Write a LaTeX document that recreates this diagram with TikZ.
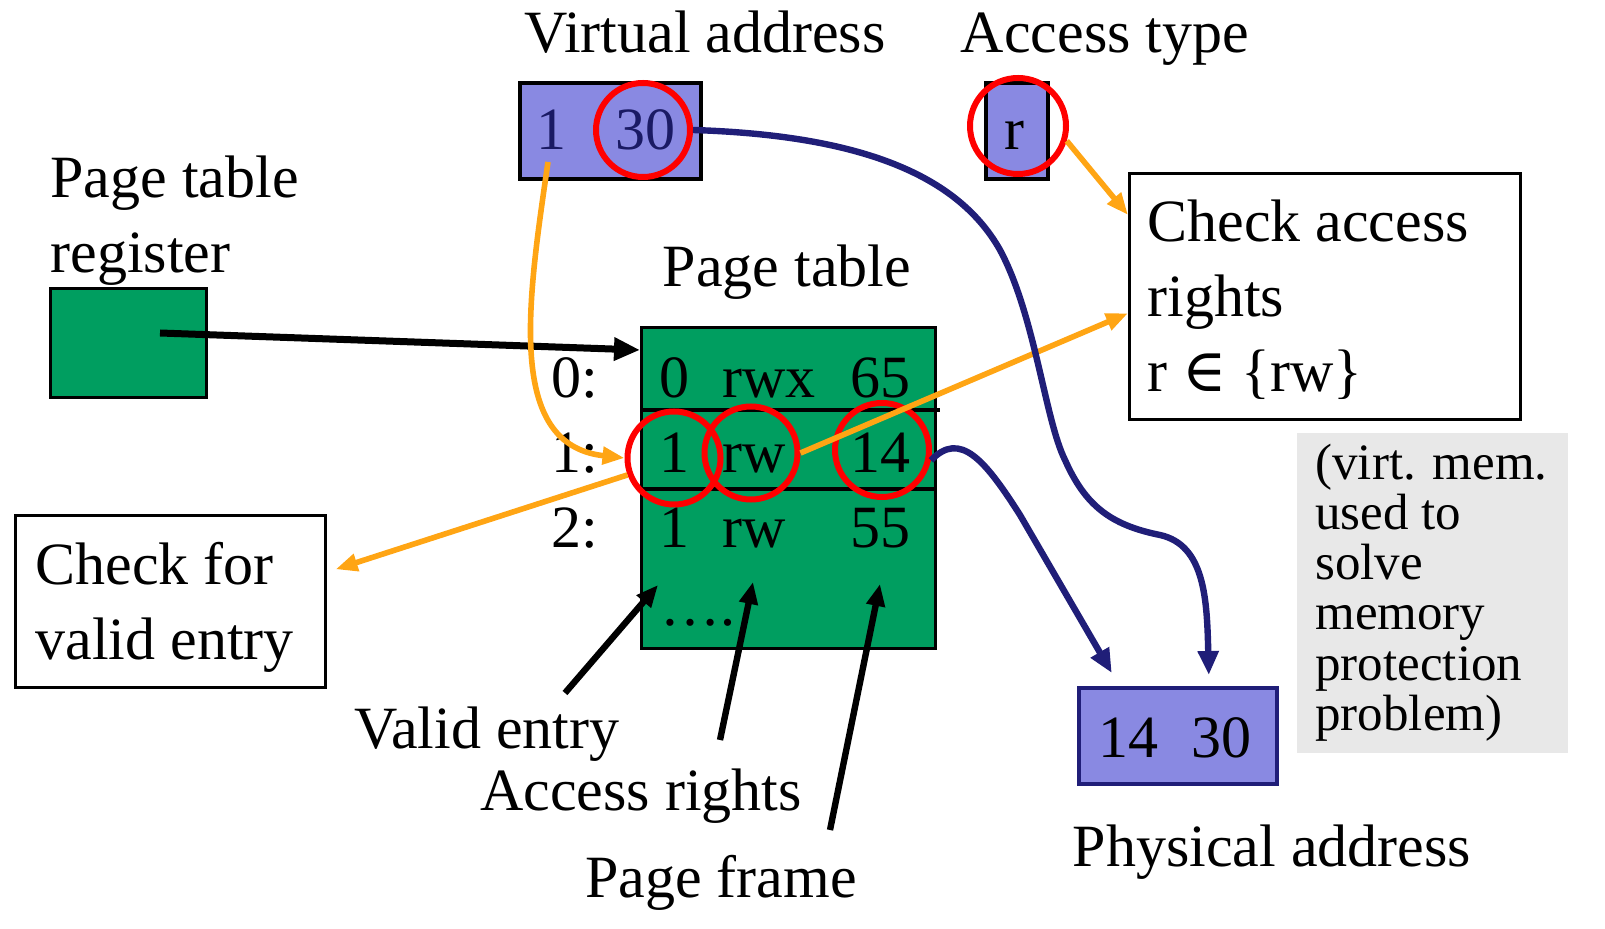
\documentclass[tikz,border=0pt]{standalone}
\usepackage{fontspec}
\setmainfont{Liberation Serif}
\newfontfamily\symfont{DejaVu Serif}
\usetikzlibrary{arrows.meta}
\definecolor{purp}{RGB}{137,137,226}
\definecolor{pgreen}{RGB}{0,158,96}
\definecolor{orng}{RGB}{255,165,20}
\definecolor{navy}{RGB}{32,30,120}
\definecolor{vtext}{RGB}{26,26,100}
\definecolor{note}{RGB}{232,232,232}
\begin{document}
\begin{tikzpicture}[x=0.5pt,y=-0.5pt,
  big/.style={font=\fontsize{30}{37.5}\selectfont, inner sep=0pt, anchor=base},
  bigw/.style={big, anchor=base west},
  small/.style={font=\fontsize{25.5}{25}\selectfont, inner sep=0pt, anchor=base west},
  rect/.style={draw=black, line width=1.3pt, inner sep=0pt, anchor=north west},
  redc/.style={draw=red, line width=3pt, circle, inner sep=0pt, minimum size=47pt},
  oarr/.style={draw=orng, line width=2.8pt, -{Triangle[length=11pt,width=8.5pt]}},
  narr/.style={draw=navy, line width=3.2pt, -{Triangle[length=12pt,width=10pt]}},
  karr/.style={draw=black, line width=3.2pt, -{Triangle[length=11pt,width=9pt]}}
]
\useasboundingbox (0,0) rectangle (1605,929);

% titles
\node[big] (vat) at (705,53) {Virtual address};
\node[big] (att) at (1105,53) {Access type};
\node[bigw] (ptr1) at (50,198) {Page table};
\node[bigw] (ptr2) at (50,273) {register};
\node[big] (ptt) at (787,287) {Page table};

% virtual address box
\node[rect, fill=purp, line width=1.8pt, minimum width=90.5pt, minimum height=48pt] (va) at (518,81) {};
\node[big, text=vtext] (v1) at (551,150) {1};
\node[big, text=vtext] (v30) at (645,150) {30};
% access type box
\node[rect, fill=purp, line width=1.8pt, minimum width=31pt, minimum height=48pt] (at) at (984,81) {};
\node[big] (ar) at (1014,150) {r};

% check access box
\node[rect, fill=white, minimum width=195.5pt, minimum height=123pt] (ca) at (1128,172) {};
\node[bigw] (ca1) at (1147,242) {Check access};
\node[bigw] (ca2) at (1147,317) {rights};
\node[bigw] (ca3) at (1147,392) {r {\symfont ∈} \{rw\}};

% page table register
\node[rect, fill=pgreen, minimum width=78pt, minimum height=54.5pt] (ptr) at (49,287) {};

% page table
\node[rect, fill=pgreen, minimum width=147pt, minimum height=160.5pt] (pt) at (640,326) {};
\draw[line width=1.8pt] (pt.west |- 0,410) -- (940,410);
\draw[line width=1.8pt] (pt.west |- 0,489) -- (pt.east |- 0,489);
\node[big] (e0v) at (674,398) {0};
\node[bigw] (e0r) at (722,398) {rwx};
\node[big] (e0f) at (880,398) {65};
\node[big] (e1v) at (674,473) {1};
\node[bigw] (e1r) at (722,473) {rw};
\node[big] (e1f) at (880,473) {14};
\node[big] (e2v) at (674,548) {1};
\node[bigw] (e2r) at (722,548) {rw};
\node[big] (e2f) at (880,548) {55};
\node[bigw] (dots) at (660,625) {\dots.};
\node[big, anchor=base east] (l0) at (599,398) {0:};
\node[big, anchor=base east] (l1) at (599,473) {1:};
\node[big, anchor=base east] (l2) at (599,548) {2:};

% check valid box
\node[rect, fill=white, minimum width=155pt, minimum height=86pt] (cv) at (14,514) {};
\node[bigw] (cv1) at (35,585) {Check for};
\node[bigw] (cv2) at (35,660) {valid entry};

% labels
\node[big] (lve) at (487,748) {Valid entry};
\node[big] (lar) at (641,810) {Access rights};
\node[big] (lpf) at (721,897) {Page frame};

% physical address
\node[rect, draw=navy, fill=purp, line width=1.8pt, minimum width=99pt, minimum height=48pt] (pa) at (1077,686) {};
\node[big] (p14) at (1128,757) {14};
\node[big] (p30) at (1221,757) {30};
\node[big] (pat) at (1272,866) {Physical address};

% note
\node[rect, draw=none, fill=note, minimum width=135.5pt, minimum height=160pt] (nb) at (1296,432) {};
\node[small] (n1) at (1315,480) {(virt. mem.};
\node[small] (n2) at (1315,530) {used to};
\node[small] (n3) at (1315,580) {solve};
\node[small] (n4) at (1315,630) {memory};
\node[small] (n5) at (1315,680) {protection};
\node[small] (n6) at (1315,730) {problem)};

% red circles
\node[redc] (c30) at (643,130) {};
\node[redc, minimum size=48pt] (cr) at (1018,126) {};
\node[redc, minimum size=46.5pt] (c1) at (674,458) {};
\node[redc, minimum size=46.5pt] (crw) at (751,453) {};
\node[redc, minimum size=47pt] (c14) at (882,450) {};

% connectors
\coordinate (ptrd) at (160,333);
\draw[draw=black, line width=3.5pt, -{Triangle[length=13pt,width=11pt]}] (ptrd) -- ([yshift=-12pt]pt.north west);

\coordinate (v1b) at (548,162);
\draw[oarr] (v1b) .. controls (528,300) and (505,445) .. (c1.west);
\draw[oarr] (c1.200) -- ([xshift=4.5pt,yshift=16pt]cv.east);
\draw[oarr] (crw.east) -- ([yshift=-8.5pt]ca.west);
\draw[oarr] (cr.-17) -- ([yshift=-21.5pt]ca.north west);

\draw[narr] (c30.east) .. controls (850,135) and (955,170) .. (1000,250)
   .. controls (1035,315) and (1045,420) .. (1065,460)
   .. controls (1085,505) and (1110,525) .. (1160,535)
   .. controls (1205,545) and (1207,600) .. ([xshift=15.5pt,yshift=5.5pt]pa.north);
\draw[narr] (c14.-12) .. controls (960,430) and (985,460) .. (1020,515)
   -- ([xshift=-33pt,yshift=6.5pt]pa.north);

\coordinate (lveT) at (565,693);
\coordinate (lveH) at (658,585);
\coordinate (larT) at (720,740);
\coordinate (larH) at (753,582);
\coordinate (lpfT) at (830,830);
\coordinate (lpfH) at (880,584);
\draw[karr] (lveT) -- (lveH);
\draw[karr] (larT) -- (larH);
\draw[karr] (lpfT) -- (lpfH);
\end{tikzpicture}
\end{document}
